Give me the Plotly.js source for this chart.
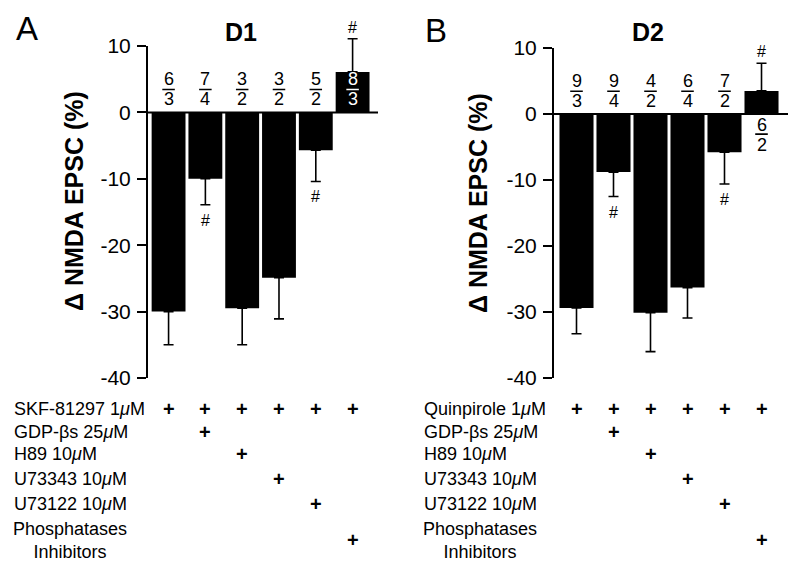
<!DOCTYPE html>
<html><head><meta charset="utf-8">
<script src="https://cdn.plot.ly/plotly-3.0.1.min.js"></script>
<style>html,body{margin:0;padding:0;background:#fff}#chart{width:800px;height:568px}</style>
</head><body><div id="chart"></div>
<script>
// ---------- data ----------
const barIndex = [0, 1, 2, 3, 4, 5];
const yTicks = [-40, -30, -20, -10, 0, 10];

const d1Values = [-30, -10, -29.5, -24.9, -5.7, 6.1];
const d1Errors = [5, 3.9, 5.5, 6.2, 4.7, 5.0];
const d1Cells = [6, 7, 3, 3, 5, 8];
const d1Animals = [3, 4, 2, 2, 2, 3];
const d1Significant = [false, true, false, false, true, true];

const d2Values = [-29.4, -8.8, -30.1, -26.3, -5.8, 3.5];
const d2Errors = [3.9, 3.7, 5.9, 4.6, 4.8, 4.2];
const d2Cells = [9, 9, 4, 6, 7, 6];
const d2Animals = [3, 4, 2, 4, 2, 2];
const d2Significant = [false, true, false, false, true, true];

const rowLabelsA = ["SKF-81297 1<i>μ</i>M", "GDP-βs 25<i>μ</i>M", "H89 10<i>μ</i>M", "U73343 10<i>μ</i>M", "U73122 10<i>μ</i>M", "Phosphatases<br>Inhibitors"];
const rowLabelsB = ["Quinpirole 1<i>μ</i>M", "GDP-βs 25<i>μ</i>M", "H89 10<i>μ</i>M", "U73343 10<i>μ</i>M", "U73122 10<i>μ</i>M", "Phosphatases<br>Inhibitors"];
const rowTreatedBars = [[0, 1, 2, 3, 4, 5], [1], [2], [3], [4], [5]];

// ---------- layout geometry (pixels) ----------
const W = 800, H = 568;
const FONT = "Liberation Sans, Arial, Helvetica, sans-serif";
const rowPixY = [409, 432, 454, 479, 504, 540];

const panels = [
  {xa: 'x', ya: 'y', values: d1Values, errors: d1Errors, cells: d1Cells, animals: d1Animals, sig: d1Significant,
   axisPx: 147, rightPx: 378, xmin: -0.586, xmax: 5.69, top10: 46, bot40: 378,
   title: 'D1', titleX: 241, titleY: 32, letter: 'A', letterX: 27, letterY: 29, ytitleX: 74, ytitleY: 201,
   labels: rowLabelsA, labelX: 12, labelCenter: 70},
  {xa: 'x2', ya: 'y2', values: d2Values, errors: d2Errors, cells: d2Cells, animals: d2Animals, sig: d2Significant,
   axisPx: 553, rightPx: 788, xmin: -0.635, xmax: 5.716, top10: 48, bot40: 378,
   title: 'D2', titleX: 648, titleY: 32, letter: 'B', letterX: 436, letterY: 31, ytitleX: 478, ytitleY: 203,
   labels: rowLabelsB, labelX: 422, labelCenter: 480}
];

const traces = [];
const shapes = [];
const annotations = [];
const layout = {
  width: W, height: H, margin: {l: 0, r: 0, t: 0, b: 0},
  paper_bgcolor: '#fff', plot_bgcolor: 'rgba(0,0,0,0)', showlegend: false,
  font: {family: FONT, color: '#000'}
};

panels.forEach((p, k) => {
  const ppu = (p.bot40 - p.top10) / 50;
  const ymin = -42, ymax = 13;
  const botPx = p.bot40 + (-40 - ymin) * ppu;
  const topPx = p.top10 - (ymax - 10) * ppu;
  const xKey = k === 0 ? 'xaxis' : 'xaxis2';
  const yKey = k === 0 ? 'yaxis' : 'yaxis2';
  layout[xKey] = {domain: [p.axisPx / W, p.rightPx / W], range: [p.xmin, p.xmax], anchor: p.ya,
    showticklabels: false, ticks: '', showline: false, showgrid: false, zeroline: false, fixedrange: true};
  layout[yKey] = {domain: [1 - botPx / H, 1 - topPx / H], range: [ymin, ymax], anchor: p.xa,
    tickvals: yTicks, ticktext: yTicks.map(String), ticks: 'outside', ticklen: 9, tickwidth: 2, tickcolor: '#000',
    tickfont: {family: FONT, size: 21, color: '#000'}, ticklabelstandoff: 2,
    showline: false, showgrid: false, zeroline: false, fixedrange: true};

  traces.push({
    type: 'bar', x: barIndex, y: p.values, xaxis: p.xa, yaxis: p.ya, width: 0.92,
    marker: {color: '#000', line: {width: 0}},
    error_y: {type: 'data', symmetric: false,
      array: p.values.map((v, i) => v > 0 ? p.errors[i] : 0),
      arrayminus: p.values.map((v, i) => v < 0 ? p.errors[i] : 0),
      color: '#000', thickness: 1.6, width: 5},
    hoverinfo: 'none', cliponaxis: false
  });

  // axis line and zero line
  shapes.push({type: 'line', xref: p.xa + ' domain', yref: p.ya, x0: 0, x1: 0, y0: -40, y1: 10, line: {color: '#000', width: 2}});
  shapes.push({type: 'line', xref: p.xa + ' domain', yref: p.ya, x0: 0, x1: 1, y0: 0, y1: 0, line: {color: '#000', width: 2}, layer: 'above'});

  // fractions (cells / animals)
  barIndex.forEach(i => {
    const inside = p.values[i] > 0 && k === 0;
    const below = p.values[i] > 0 && k === 1;
    const yn = below ? -1.7 : 5.0, yl = below ? -3.05 : 3.45, yd = below ? -4.7 : 2.0;
    const col = inside ? '#fff' : '#000';
    annotations.push({xref: p.xa, yref: p.ya, x: i, y: yn, text: String(p.cells[i]), showarrow: false,
      font: {family: FONT, size: 18, color: col}, xanchor: 'center', yanchor: 'middle'});
    annotations.push({xref: p.xa, yref: p.ya, x: i, y: yd, text: String(p.animals[i]), showarrow: false,
      font: {family: FONT, size: 18, color: col}, xanchor: 'center', yanchor: 'middle'});
    shapes.push({type: 'line', xref: p.xa, yref: p.ya, x0: i - 0.17, x1: i + 0.17, y0: yl, y1: yl,
      line: {color: col, width: 1.6}, layer: 'above'});
    if (p.sig[i]) {
      const up = p.values[i] > 0;
      const yEnd = up ? p.values[i] + p.errors[i] : p.values[i] - p.errors[i];
      annotations.push({xref: p.xa, yref: p.ya, x: i, y: yEnd, text: '#', showarrow: false,
        font: {family: FONT, size: 16, color: '#000'}, xanchor: 'center',
        yanchor: up ? 'bottom' : 'top', yshift: up ? 1 : -5});
    }
  });

  // titles
  annotations.push({xref: 'paper', yref: 'paper', x: p.titleX / W, y: 1 - p.titleY / H, text: '<b>' + p.title + '</b>',
    showarrow: false, font: {family: FONT, size: 25, color: '#000'}, xanchor: 'center', yanchor: 'middle'});
  annotations.push({xref: 'paper', yref: 'paper', x: p.letterX / W, y: 1 - p.letterY / H, text: p.letter,
    showarrow: false, font: {family: FONT, size: 33, color: '#000'}, xanchor: 'center', yanchor: 'middle'});
  annotations.push({xref: 'paper', yref: 'paper', x: p.ytitleX / W, y: 1 - p.ytitleY / H, text: '<b>Δ NMDA EPSC (%)</b>',
    showarrow: false, textangle: -90, font: {family: FONT, size: 25, color: '#000'}, xanchor: 'center', yanchor: 'middle'});

  // treatment table
  p.labels.forEach((lab, r) => {
    const last = r === p.labels.length - 1;
    annotations.push({xref: 'paper', yref: 'paper', x: (last ? p.labelCenter : p.labelX) / W, y: 1 - rowPixY[r] / H,
      text: lab, showarrow: false, align: 'center', font: {family: FONT, size: 18, color: '#000'},
      xanchor: last ? 'center' : 'left', yanchor: 'middle'});
    rowTreatedBars[r].forEach(b => {
      annotations.push({xref: p.xa, yref: 'paper', x: b, y: 1 - rowPixY[r] / H, text: '<b>+</b>', showarrow: false,
        font: {family: FONT, size: 20, color: '#000'}, xanchor: 'center', yanchor: 'middle'});
    });
  });
});

layout.shapes = shapes;
layout.annotations = annotations;
Plotly.newPlot('chart', traces, layout, {staticPlot: true, displayModeBar: false});
</script>
</body></html>
